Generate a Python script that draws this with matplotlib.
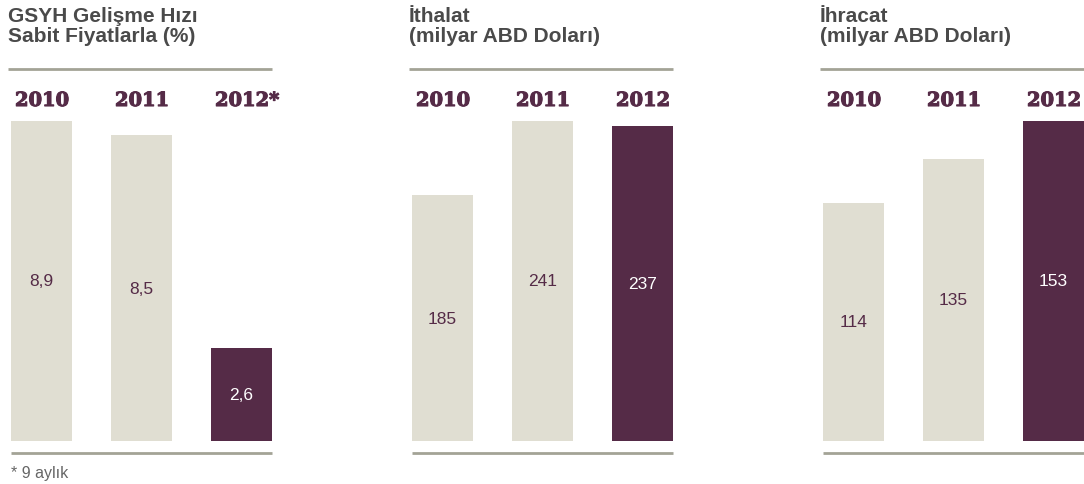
import matplotlib
matplotlib.use("Agg")
import matplotlib.pyplot as plt
import matplotlib.patheffects as pe

# dataset
years = ["2010", "2011", "2012"]
gdp_growth = [8.9, 8.5, 2.6]
imports = [185, 241, 237]
exports = [114, 135, 153]

gdp_labels = ["8,9", "8,5", "2,6"]
imp_labels = ["185", "241", "237"]
exp_labels = ["114", "135", "153"]

titles = [
    ("GSYH Gelişme Hızı", "Sabit Fiyatlarla (%)"),
    ("İthalat", "(milyar ABD Doları)"),
    ("İhracat", "(milyar ABD Doları)"),
]
year_marks = [["2010", "2011", "2012*"], years, years]
footnote = "* 9 aylık"

LIGHT = "#E0DED2"
DARK = "#552B47"
RULE = "#A3A396"
TITLE_C = "#4A4A4A"

W, H = 1084, 485
fig = plt.figure(figsize=(W / 100, H / 100), dpi=100)

panels = [
    (gdp_growth, gdp_labels),
    (imports, imp_labels),
    (exports, exp_labels),
]
lefts = [11, 412, 823]
bar_w = 0.61
bottom_px, height_px = 442, 320
width_px = 261

for i, (vals, labels) in enumerate(panels):
    left = lefts[i]
    ax = fig.add_axes([left / W, (H - bottom_px) / H, width_px / W, height_px / H])
    colors = [LIGHT, LIGHT, DARK]
    xs = range(len(vals))
    ax.bar(xs, vals, width=bar_w, color=colors)
    ax.set_xlim(-bar_w / 2, 2 + bar_w / 2)
    ax.set_ylim(0, max(vals))
    ax.axis("off")

    for x, v, lab, c in zip(xs, vals, labels, colors):
        tc = "white" if c == DARK else DARK
        ax.text(x, v / 2, lab, ha="center", va="center", fontsize=12.5,
                color=tc, family="Liberation Sans")

    # year header, slightly thickened slab serif
    for x, yr in zip(xs, year_marks[i]):
        ax.text(x - bar_w / 2 + 0.04, (bottom_px - 107) / height_px, yr,
                ha="left", va="baseline", fontsize=14, fontweight="bold",
                color=DARK, family="DejaVu Serif", transform=ax.get_xaxis_transform(),
                path_effects=[pe.withStroke(linewidth=0.8, foreground=DARK)])

    # rules above and below
    top_y = (bottom_px - 70) / height_px
    bot_y = (bottom_px - 453.5) / height_px
    ax.plot([-3 / width_px, 1], [top_y, top_y], transform=ax.transAxes,
            color=RULE, lw=2, clip_on=False, solid_capstyle="butt")
    ax.plot([0, 1], [bot_y, bot_y], transform=ax.transAxes,
            color=RULE, lw=2, clip_on=False, solid_capstyle="butt")

    line1, line2 = titles[i]
    fig.text((left - 3) / W, 1 - 22 / H, line1, ha="left", va="baseline",
             fontsize=15, fontweight="bold", color=TITLE_C, family="Liberation Sans")
    fig.text((left - 3) / W, 1 - 42 / H, line2, ha="left", va="baseline",
             fontsize=15, fontweight="bold", color=TITLE_C, family="Liberation Sans")

fig.text(11 / W, 1 - 478 / H, footnote, ha="left", va="baseline",
         fontsize=11.5, color="#666666", family="Liberation Sans")

fig.savefig("out.png", dpi=100)
